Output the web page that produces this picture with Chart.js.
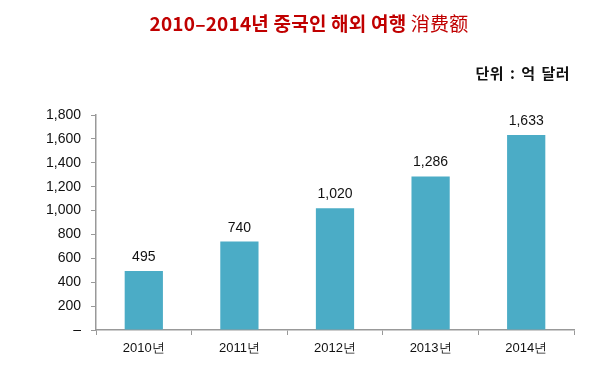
<!DOCTYPE html>
<html>
<head>
<meta charset="utf-8">
<script src="https://cdn.jsdelivr.net/npm/chart.js@4"></script>
<style>
  html, body { margin: 0; padding: 0; background: #fff; }
  #wrap { position: relative; width: 591px; height: 367px; }
  #title {
    position: absolute; left: 0; width: 618px; top: 9px; text-align: center;
    font-family: "Noto Sans CJK KR", sans-serif; font-weight: bold; font-size: 19px;
    color: #c00000; letter-spacing: 0.2px;
  }
  #title .cn { font-weight: normal; }
  #unit {
    position: absolute; right: 21px; top: 62px;
    font-family: "Noto Sans CJK KR", sans-serif; font-weight: bold; font-size: 15px; color: #111;
    letter-spacing: 0.5px; word-spacing: 2px;
  }
</style>
</head>
<body>
<div id="wrap">
  <canvas id="chart" width="591" height="367"></canvas>
  <div id="title">2010–2014년 중국인 해외 여행 <span class="cn">消费额</span></div>
  <div id="unit">단위 : 억 달러</div>
</div>
<script>
// chart data
const years = ['2010년', '2011년', '2012년', '2013년', '2014년'];
const spending = [495, 740, 1020, 1286, 1633];
const yTicks = [0, 200, 400, 600, 800, 1000, 1200, 1400, 1600, 1800];

const fontFamily = '"Liberation Sans", Arial, sans-serif';

// Draw value labels above bars
const valueLabels = {
    id: 'valueLabels',
    afterDatasetsDraw(chart) {
        const ctx = chart.ctx;
        const meta = chart.getDatasetMeta(0);
        ctx.save();
        ctx.font = '14px ' + fontFamily;
        ctx.fillStyle = '#111';
        ctx.textAlign = 'center';
        ctx.textBaseline = 'alphabetic';
        meta.data.forEach((bar, i) => {
            ctx.fillText(spending[i].toLocaleString('en-US'), bar.x, bar.y - 10);
        });
        ctx.restore();
    }
};

const ctx = document.getElementById('chart').getContext('2d');
const spendingChart = new Chart(ctx, {
    type: 'bar',
    data: {
        labels: years,
        datasets: [{
            data: spending,
            backgroundColor: '#4bacc6',
            barPercentage: 0.4,
            categoryPercentage: 1.0
        }]
    },
    options: {
        responsive: false,
        animation: false,
        layout: { padding: { top: 115, right: 17, bottom: 0, left: 0 } },
        plugins: {
            legend: { display: false },
            tooltip: { enabled: false }
        },
        scales: {
            x: {
                grid: { drawOnChartArea: false, drawTicks: true, tickLength: 5, color: '#999', offset: true },
                border: { color: '#999', width: 1.5 },
                ticks: { color: '#111', font: { family: fontFamily, size: 13 }, padding: 6 },
                afterFit(scale) { scale.height = 37; }
            },
            y: {
                min: 0,
                max: 1800,
                afterBuildTicks(scale) { scale.ticks = yTicks.map(v => ({ value: v })); },
                grid: { drawOnChartArea: false, drawTicks: true, tickLength: 5, color: '#999' },
                border: { color: '#999', width: 1.5 },
                ticks: {
                    color: '#111',
                    font: { family: fontFamily, size: 14 },
                    padding: 10,
                    callback: v => v === 0 ? '–' : v.toLocaleString('en-US')
                },
                afterFit(scale) { scale.width = 96; }
            }
        }
    },
    plugins: [valueLabels]
});
</script>
</body>
</html>
